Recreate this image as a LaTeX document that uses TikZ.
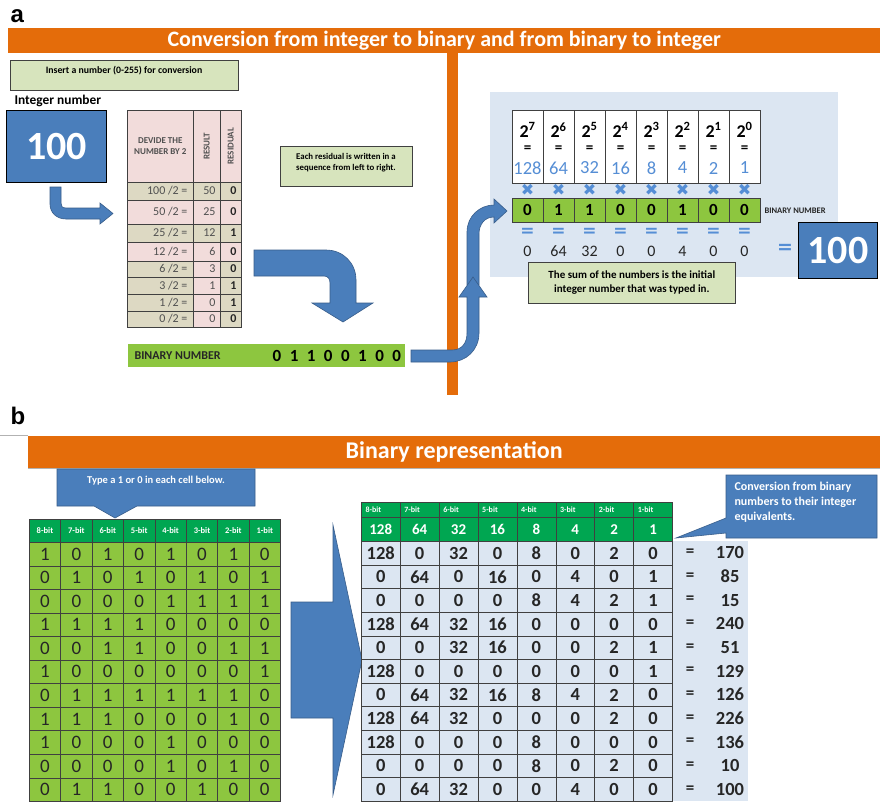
\documentclass[tikz,border=0pt]{standalone}
\usepackage{fontspec}
\setmainfont{Carlito}
\newfontfamily\arialf{Liberation Sans}
\newfontfamily\dejavuf{DejaVu Sans}
\definecolor{orng}{HTML}{E46C0A}
\definecolor{bluebox}{HTML}{4A7EBB}
\definecolor{bluedark}{HTML}{385D8A}
\definecolor{lgreen}{HTML}{D7E4BD}
\definecolor{mgreen}{HTML}{8DC63F}
\definecolor{dgreen}{HTML}{00A651}
\definecolor{lblue}{HTML}{DCE6F2}
\definecolor{pinkc}{HTML}{F2DCDB}
\definecolor{tanc}{HTML}{DDD9C3}
\definecolor{numblue}{HTML}{558ED5}
\definecolor{gridc}{HTML}{404040}
\definecolor{txtgray}{HTML}{505050}
\definecolor{txtdark}{HTML}{262626}
\newcommand\fsz[2]{\fontsize{#1}{#2}\selectfont}
\begin{document}
\begin{tikzpicture}[x=1pt,y=-1pt,
  box/.style={draw=gridc,line width=0.6pt,inner sep=0pt},
  cell/.style={draw=gridc,line width=0.6pt,inner sep=0pt,anchor=north west},
  blk/.style={fill=bluebox,draw=bluedark,line width=0.6pt},
  ttl/.style={fill=orng,inner sep=0pt,anchor=north west,text=white},
  lbl/.style={font=\arialf\bfseries\fsz{24}{28},anchor=base west},
  beq/.style={font=\dejavuf\bfseries\fsz{17}{18},text=numblue,inner sep=0pt},
]
\useasboundingbox (0,0) rectangle (880,803);
\fill[white] (0,0) rectangle (880,803);

% ---------------- part a ----------------
\node[lbl] (la) at (7,22) {a};
\node[ttl,minimum width=872pt,minimum height=25pt,font=\bfseries\fsz{22}{24}] (ta) at (8,28) {Conversion from integer to binary and from binary to integer};
\node[fill=orng,inner sep=0pt,anchor=north west,minimum width=11pt,minimum height=342pt] (vbar) at (447,53) {};

\node[box,fill=lgreen,anchor=north west,minimum width=228pt,minimum height=30pt] (ins) at (10,60) {};
\node[font=\bfseries\fsz{9.8}{11}] (inst) at (124,71) {Insert a number (0-255) for conversion};
\node[anchor=west,font=\bfseries\fsz{13.4}{15}] (intl) at (11,101) {Integer number};
\node[draw=black,line width=1.2pt,fill=bluebox,anchor=north west,minimum width=100pt,minimum height=72pt,inner sep=0pt,text=white,font=\bfseries\fsz{40}{44}] (int) at (6,110) {100};
\path[blk] (50,187) -- (61,187) -- (61,203) .. controls (61,206) and (62,208) .. (66,208) -- (100,208) -- (100,203) -- (113,213.5) -- (100,224) -- (100,219) -- (66,219) .. controls (57,219) and (50,213) .. (50,204) -- cycle;

% division table
\node[cell,fill=pinkc,minimum width=66pt,minimum height=72pt] (h1) at (127,110) {};
\node[cell,fill=pinkc,minimum width=27pt,minimum height=72pt] (h2) at (193,110) {};
\node[cell,fill=pinkc,minimum width=21pt,minimum height=72pt] (h3) at (220,110) {};
\node[font=\bfseries\fsz{9}{11},text=txtgray,align=center] (h1t) at (h1.center) {DEVIDE THE\\NUMBER BY 2};
\node[font=\bfseries\fsz{9}{10},text=txtgray,rotate=90] (h2t) at (h2.center) {RESULT};
\node[font=\bfseries\fsz{9}{10},text=txtgray,rotate=90] (h3t) at (h3.center) {RESIDUAL};
\foreach \ytop/\ybot/\dvd/\res/\rsd/\ca/\cb [count=\i] in {182/200/100/50/0/tanc/tanc, 200/224/50/25/0/pinkc/pinkc, 224/242/25/12/1/tanc/tanc, 242/261/12/6/0/pinkc/pinkc, 261/277/6/3/0/tanc/pinkc, 277/294/3/1/1/tanc/pinkc, 294/311/1/0/1/tanc/pinkc, 311/327/0/0/0/tanc/pinkc}{
  \pgfmathsetmacro\hh{\ybot-\ytop}
  \pgfmathsetmacro\mm{(\ytop+\ybot)/2}
  \node[cell,fill=\ca,minimum width=66pt,minimum height=\hh pt] (ra\i) at (127,\ytop) {};
  \node[cell,fill=\cb,minimum width=27pt,minimum height=\hh pt] (rb\i) at (193,\ytop) {};
  \node[cell,fill=\ca,minimum width=21pt,minimum height=\hh pt] (rc\i) at (220,\ytop) {};
  \node[anchor=east,font=\fsz{12}{13},text=txtgray] (rta\i) at (191,\mm) {\dvd\ /2 =};
  \node[anchor=east,font=\fsz{12}{13},text=txtgray] (rtb\i) at (219,\mm) {\res};
  \node[anchor=east,font=\bfseries\fsz{12}{13},text=txtdark] (rtc\i) at (240,\mm) {\rsd};
}

\node[box,fill=lgreen,anchor=north west,minimum width=132pt,minimum height=40pt] (resb) at (280,146) {};
\node[font=\bfseries\fsz{8.8}{11},align=center] (rest) at (346,163) {Each residual is written in a\\sequence from left to right.};

\path[blk] (254,250) -- (326,250) .. controls (343,250) and (356,263) .. (356,280) -- (356,303) -- (373,303) -- (343,322) -- (312,303) -- (330,303) -- (330,283) .. controls (330,279) and (328,276) .. (324,276) -- (254,276) -- cycle;

\node[fill=mgreen,anchor=north west,minimum width=277pt,minimum height=23pt,inner sep=0pt] (bbar) at (128,344) {};
\node[anchor=west,font=\bfseries\fsz{12}{14},text=txtdark] (bbl) at (131,356) {BINARY NUMBER};
\foreach \v [count=\i from 0] in {0,1,1,0,0,1,0,0}
  \node[font=\bfseries\fsz{17}{18}] (bd\i) at ({277+17.1*\i},356) {\v};

% right panel
\node[fill=lblue,anchor=north west,minimum width=348pt,minimum height=185pt,inner sep=0pt] (panel) at (490,92) {};
\path[blk] (467,285) -- (467,232) .. controls (467,216) and (480,205) .. (494,205) -- (494,199) -- (507,211) -- (494,223) -- (494,217) .. controls (485,217) and (479,224) .. (479,234) -- (479,285) -- cycle;
\path[blk] (411,350) -- (452,350) .. controls (462,350) and (467,343) .. (467,333) -- (467,297) -- (459,297) -- (473,277) -- (487,297) -- (479,297) -- (479,333) .. controls (479,350) and (466,362) .. (450,362) -- (411,362) -- cycle;

\foreach \p/\v/\bb/\m [count=\c from 0] in {7/128/0/0,6/64/1/64,5/32/1/32,4/16/0/0,3/8/0/0,2/4/1/4,1/2/0/0,0/1/0/0}{
  \pgfmathsetmacro\xl{512+31*\c}
  \pgfmathsetmacro\xc{527.5+31*\c}
  \node[cell,fill=white,minimum width=31pt,minimum height=73pt] (pw\c) at (\xl,110) {};
  \node[font=\bfseries\fsz{18}{20}] (pe\c) at (\xc,130) {2\textsuperscript{\p}};
  \node[font=\bfseries\fsz{15}{16}] (pq\c) at (\xc,149) {=};
  \node[font=\fsz{18.5}{20},text=numblue] (pv\c) at (\xc,168) {\v};
  \node[font=\dejavuf\fsz{16}{17},text=numblue,inner sep=0pt] (px\c) at (\xc,190) {✖};
  \node[cell,fill=mgreen,minimum width=31pt,minimum height=24pt] (pb\c) at (\xl,198) {};
  \node[font=\bfseries\fsz{17}{19},inner sep=0pt] (pbt\c) at (\xc,210) {\bb};
  \node[beq] (pqq\c) at (\xc,232) {=};
  \node[font=\fsz{16}{18},text=txtdark,inner sep=0pt] (pm\c) at (\xc,251.5) {\m};
}
\node[anchor=west,font=\bfseries\fsz{8.5}{10},text=txtdark] (bnl) at (761,211) {BINARY NUMBER};
\node[box,fill=lgreen,anchor=north west,minimum width=207pt,minimum height=41pt,align=center,font=\bfseries\fsz{11}{13.5}] (sumb) at (528,262) {The sum of the numbers is the initial\\integer number that was typed in.};
\node[beq,font=\dejavuf\bfseries\fsz{19}{20}] (eqr) at (785,249) {=};
\node[draw=black,line width=1.2pt,fill=bluebox,anchor=north west,minimum width=79pt,minimum height=56pt,inner sep=0pt,text=white,font=\bfseries\fsz{40}{44}] (int2) at (798,222) {100};

% ---------------- part b ----------------
\node[lbl] (lb) at (7,424) {b};
\draw[gray!60,line width=0.6pt] (0,435) -- (28,435);
\node[ttl,minimum width=852pt,minimum height=32pt,font=\bfseries\fsz{24}{26}] (tb) at (28,436) {Binary representation};
\draw[gray!60,line width=1pt] (28,468.5) -- (880,468.5);

\path[blk] (57,469) -- (255,469) -- (255,506) -- (137,506) -- (115,518) -- (94,506) -- (57,506) -- cycle;
\node[text=white,font=\bfseries\fsz{10.5}{12}] (tcall) at (156,481) {Type a 1 or 0 in each cell below.};

\foreach \hb [count=\c from 0] in {8,7,6,5,4,3,2,1}
  \node[cell,fill=dgreen,minimum width=31.4pt,minimum height=23pt,text=white,font=\bfseries\fsz{8.5}{10}] (lh\c) at ({29+31.4*\c},519) {\hb-bit};
\foreach \row [count=\rr from 0] in {{1,0,1,0,1,0,1,0},{0,1,0,1,0,1,0,1},{0,0,0,0,1,1,1,1},{1,1,1,1,0,0,0,0},{0,0,1,1,0,0,1,1},{1,0,0,0,0,0,0,1},{0,1,1,1,1,1,1,0},{1,1,1,0,0,0,1,0},{1,0,0,0,1,0,0,0},{0,0,0,0,1,0,1,0},{0,1,1,0,0,1,0,0}}{
  \foreach \dd [count=\c from 0] in \row {
    \node[cell,fill=mgreen,minimum width=31.4pt,minimum height=23.55pt,font=\fsz{19}{20},text=black!85] (lc-\rr-\c) at ({29+31.4*\c},{542+23.55*\rr}) {\dd};
  }
}

\path[blk] (291,602) -- (333,602) -- (333,525) -- (362,660) -- (333,795) -- (333,718) -- (291,718) -- cycle;

\foreach \hb/\hv [count=\c from 0] in {8/128,7/64,6/32,5/16,4/8,3/4,2/2,1/1}{
  \node[cell,fill=dgreen,minimum width=38.9pt,minimum height=15pt] (rh\c) at ({361+38.9*\c},502) {};
  \node[anchor=west,text=white,font=\bfseries\fsz{8}{9}] (rht\c) at ({362+38.9*\c},509.5) {\hb-bit};
  \node[cell,fill=dgreen,minimum width=38.9pt,minimum height=24pt,text=white,font=\bfseries\fsz{15}{17}] (rv\c) at ({361+38.9*\c},517) {\hv};
}
\node[fill=lblue,anchor=north west,minimum width=76pt,minimum height=260pt,inner sep=0pt] (eqbg) at (672,541) {};
\foreach \vals/\sm [count=\rr from 0] in {{128,0,32,0,8,0,2,0}/170,{0,64,0,16,0,4,0,1}/85,{0,0,0,0,8,4,2,1}/15,{128,64,32,16,0,0,0,0}/240,{0,0,32,16,0,0,2,1}/51,{128,0,0,0,0,0,0,1}/129,{0,64,32,16,8,4,2,0}/126,{128,64,32,0,0,0,2,0}/226,{128,0,0,0,8,0,0,0}/136,{0,0,0,0,8,0,2,0}/10,{0,64,32,0,0,4,0,0}/100}{
  \pgfmathsetmacro\yt{541+23.64*\rr}
  \pgfmathsetmacro\ym{552.8+23.64*\rr}
  \foreach \vv [count=\c from 0] in \vals {
    \node[cell,fill=lblue,minimum width=38.9pt,minimum height=23.64pt,font=\bfseries\fsz{18.5}{20},text=txtdark] (rc-\rr-\c) at ({361+38.9*\c},\yt) {\vv};
  }
  \node[font=\bfseries\fsz{17}{19},text=txtdark] (req\rr) at (690,\ym) {=};
  \node[font=\bfseries\fsz{18.5}{20},text=txtdark] (rsum\rr) at (730,\ym) {\sm};
}

\path[blk] (726,475) -- (877,475) -- (877,538) -- (726,538) -- (726,533) -- (676,538) -- (726,518) -- cycle;
\node[anchor=north west,text=white,font=\bfseries\fsz{12}{15},align=left] (ccall) at (731,479) {Conversion from binary\\numbers to their integer\\equivalents.};
\end{tikzpicture}
\end{document}
